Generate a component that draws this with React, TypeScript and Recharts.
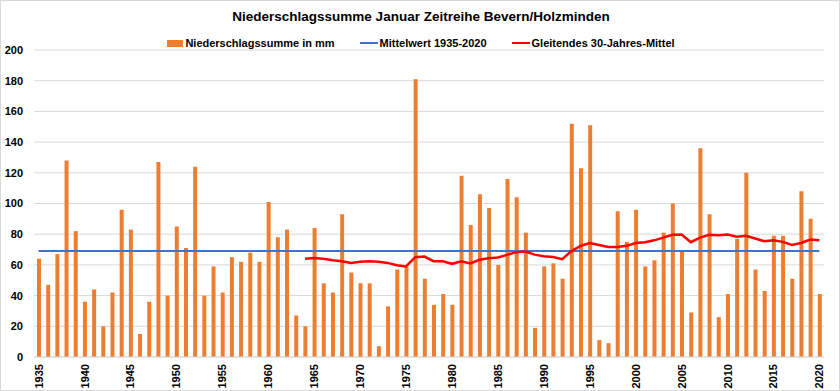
import { ComposedChart, Bar, Line, XAxis, YAxis, CartesianGrid } from "recharts";

// Januar-Niederschlag Bevern/Holzminden, 1935-2020 (mm)
const firstYear = 1935;
const lastYear = 2020;
const years = Array.from({ length: lastYear - firstYear + 1 }, (_, i) => String(firstYear + i));

const precipitation = [
  64, 47, 67, 128, 82, 36, 44, 20, 42, 96,
  83, 15, 36, 127, 40, 85, 71, 124, 40, 59,
  42, 65, 62, 68, 62, 101, 78, 83, 27, 20,
  84, 48, 42, 93, 55, 48, 48, 7, 33, 57,
  59, 181, 51, 34, 41, 34, 118, 86, 106, 97,
  60, 116, 104, 81, 19, 59, 61, 51, 152, 123,
  151, 11, 9, 95, 75, 96, 59, 63, 81, 100,
  69, 29, 136, 93, 26, 41, 77, 120, 57, 43,
  79, 79, 51, 108, 90, 41,
];

// gleitendes 30-Jahres-Mittel, ab 1964
const movingAvgFrom = 1964;
const movingAvg = [
  64, 64.5, 64, 63, 62.4, 61.3, 62, 62.4, 62, 61.3,
  59.8, 59, 65, 65.4, 62.4, 62.4, 60.7, 62.4, 61, 63.3,
  64.3, 64.8, 66.5, 68.3, 68.7, 66.7, 65.7, 65.2, 63.7, 69,
  72.4, 74.3, 73, 71.7, 71.7, 72.4, 74.3, 74.8, 76, 77.8,
  79.6, 79.8, 74.8, 77.8, 79.6, 79.3, 79.8, 78.3, 79, 77.2,
  75.4, 76, 75, 73, 74.3, 76.5, 76,
];

const meanValue = 69.1;
const yTicks = [0, 20, 40, 60, 80, 100, 120, 140, 160, 180, 200];

const data = years.map((year, i) => {
  const k = firstYear + i - movingAvgFrom;
  return {
    year,
    precip: precipitation[i],
    mean: meanValue,
    avg30: k >= 0 ? movingAvg[k] : null,
  };
});

const FONT = "'Liberation Sans', Arial, sans-serif";
const ORANGE = "#ED7D31";
const BLUE = "#4472C4";
const RED = "#FF0000";

function YearTick({ x, y, payload }: any) {
  const ty = y - 1;
  return (
    <text
      x={x}
      y={ty}
      transform={`rotate(-90 ${x} ${ty})`}
      textAnchor="end"
      dominantBaseline="central"
      fontFamily={FONT}
      fontWeight="bold"
      fontSize={11}
      fill="#000"
    >
      {payload.value}
    </text>
  );
}

function LegendItem({ kind, color, label, gap }: { kind: string; color: string; label: string; gap: number }) {
  return (
    <div style={{ display: "flex", alignItems: "center", marginRight: gap }}>
      {kind === "box" ? (
        <div style={{ width: 16, height: 7, background: color, marginRight: 2 }} />
      ) : (
        <div style={{ width: 18, height: 2, background: color, marginRight: 2 }} />
      )}
      <span>{label}</span>
    </div>
  );
}

export default function App() {
  return (
    <div
      style={{
        position: "absolute",
        left: 0,
        top: 0,
        width: 840,
        height: 391,
        background: "#fff",
        border: "1px solid #d9d9d9",
        boxSizing: "border-box",
        fontFamily: FONT,
      }}
    >
      <div
        style={{
          position: "absolute",
          top: 8,
          left: 0,
          width: 840,
          textAlign: "center",
          fontSize: 13.5,
          fontWeight: "bold",
          color: "#000",
        }}
      >
        Niederschlagssumme Januar Zeitreihe Bevern/Holzminden
      </div>
      <div
        style={{
          position: "absolute",
          top: 35,
          left: 0,
          width: 840,
          display: "flex",
          justifyContent: "center",
          fontSize: 11,
          fontWeight: "bold",
          color: "#000",
          lineHeight: "14px",
        }}
      >
        <LegendItem kind="box" color={ORANGE} label="Niederschlagssumme in mm" gap={25} />
        <LegendItem kind="line" color={BLUE} label="Mittelwert 1935-2020" gap={25} />
        <LegendItem kind="line" color={RED} label="Gleitendes 30-Jahres-Mittel" gap={0} />
      </div>
      <div style={{ position: "absolute", left: 0, top: 0 }}>
        <ComposedChart
          width={840}
          height={391}
          data={data}
          margin={{ top: 49, right: 17, left: 0, bottom: 0 }}
        >
          <CartesianGrid vertical={false} stroke="#d9d9d9" />
          <XAxis
            dataKey="year"
            interval={4}
            height={35}
            tickLine={false}
            axisLine={{ stroke: "#d9d9d9" }}
            tick={<YearTick />}
          />
          <YAxis
            width={33}
            domain={[0, 200]}
            ticks={yTicks}
            tickLine={false}
            axisLine={false}
            tickMargin={5}
            tick={{ fontFamily: FONT, fontWeight: "bold", fontSize: 11, fill: "#000" }}
          />
          <Bar dataKey="precip" fill={ORANGE} barSize={4} isAnimationActive={false} />
          <Line
            dataKey="mean"
            type="linear"
            stroke={BLUE}
            strokeWidth={2}
            dot={false}
            isAnimationActive={false}
          />
          <Line
            dataKey="avg30"
            type="linear"
            stroke={RED}
            strokeWidth={2.5}
            dot={false}
            connectNulls={false}
            isAnimationActive={false}
          />
        </ComposedChart>
      </div>
    </div>
  );
}
